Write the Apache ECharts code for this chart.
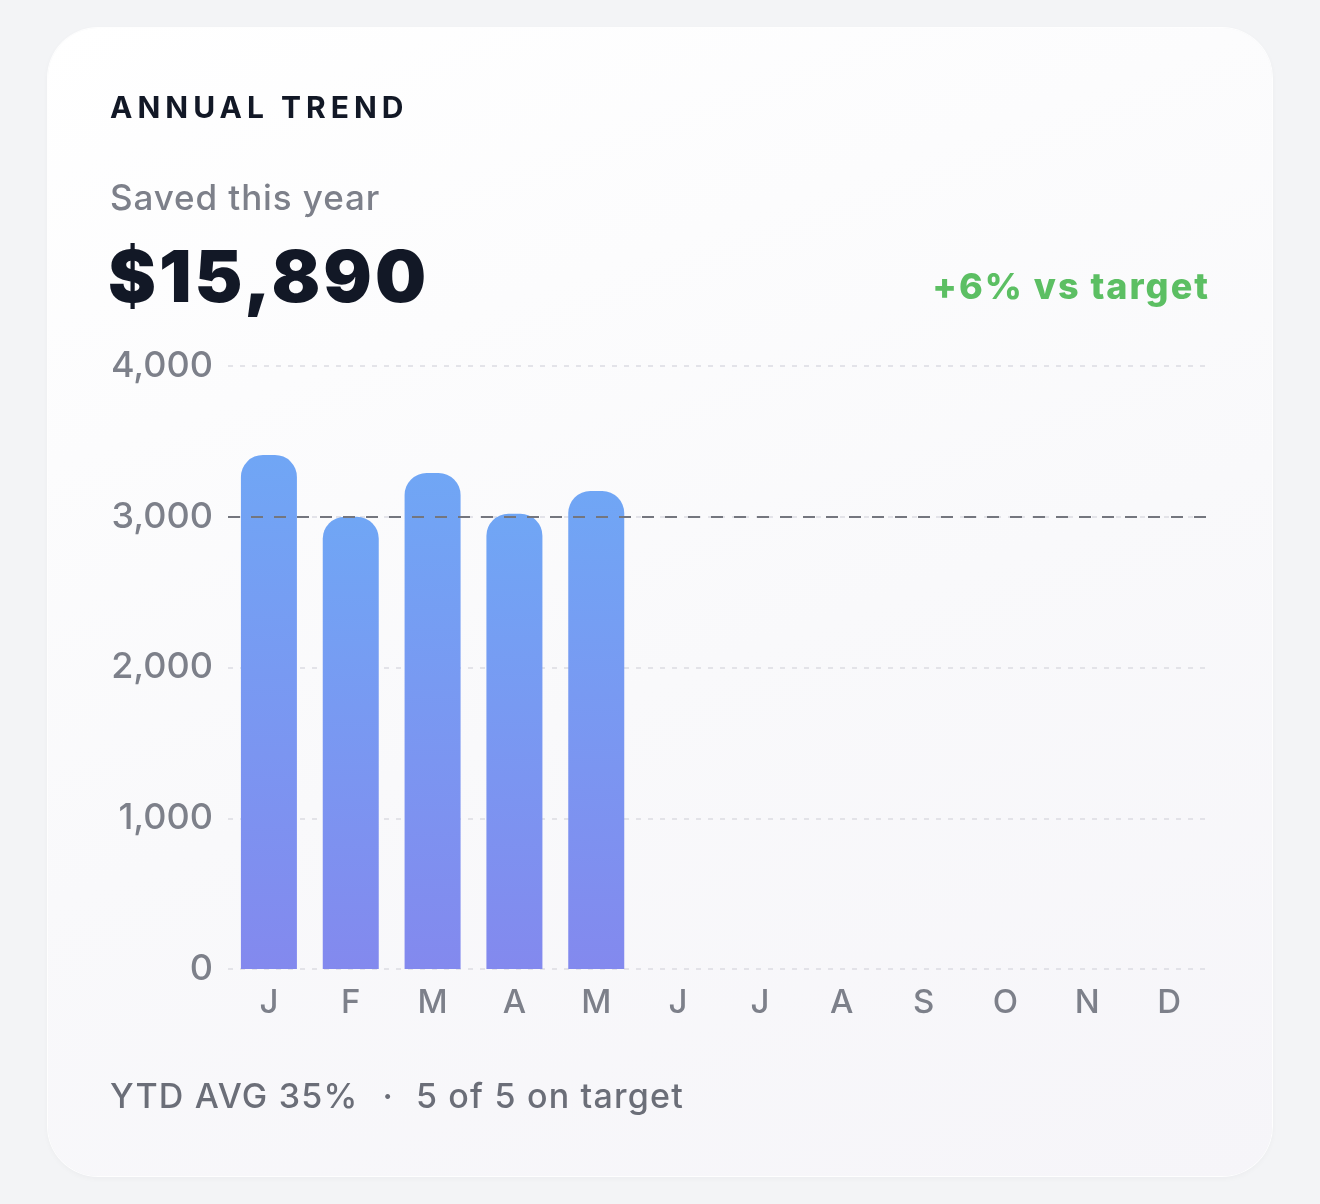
<!DOCTYPE html>
<html>
<head>
<meta charset="utf-8">
<script src="https://cdn.jsdelivr.net/npm/echarts@6/dist/echarts.min.js"></script>
<style>
  html, body { margin: 0; padding: 0; background: #f3f4f6; }
  body { width: 1320px; height: 1204px; position: relative; overflow: hidden; font-family: Inter, "Noto Sans", sans-serif; }
  .card {
    position: absolute; left: 48px; top: 28px; width: 1224px; height: 1148px;
    border-radius: 50px;
    background: linear-gradient(160deg, #ffffff 0%, #f9f9fb 55%, #f6f5f9 100%);
    box-shadow: 0 0 0 1px rgba(255,255,255,0.9), 0 2px 6px rgba(20,20,40,0.04);
  }
  #chart { position: absolute; left: 0; top: 0; width: 1320px; height: 1204px; }
  .txt { position: absolute; white-space: nowrap; }
  .head { left: 110px; top: 89px; font-size: 30px; font-weight: 700; letter-spacing: 5px; color: #121826; }
  .sub { left: 110px; top: 176px; font-size: 35px; font-weight: 500; letter-spacing: 0.9px; color: #7d808a; }
  .big { left: 108px; top: 232px; font-size: 72px; font-weight: 900; color: #121826; letter-spacing: 3px; }
  .delta { right: 110px; top: 264px; font-size: 36px; font-weight: 800; letter-spacing: 2px; color: #5cbf63; }
  .foot { left: 110px; top: 1075px; font-size: 34px; font-weight: 500; letter-spacing: 1.2px; color: #6b6e78; }
  .foot .dot { display: inline-block; margin: 0 22px 0 24px; }
</style>
</head>
<body>
<div class="card"></div>
<div id="chart"></div>
<div class="txt head">ANNUAL TREND</div>
<div class="txt sub">Saved this year</div>
<div class="txt big">$15,890</div>
<div class="txt delta">+6% vs target</div>
<div class="txt foot">YTD AVG 35%<span class="dot">·</span>5 of 5 on target</div>
<script>
// monthly savings, only Jan-May filled in so far
var months = ['J', 'F', 'M', 'A', 'M', 'J', 'J', 'A', 'S', 'O', 'N', 'D'];
var saved = [3410, 3000, 3290, 3020, 3170, null, null, null, null, null, null, null];
var target = 3000;
var yTicks = [0, 1000, 2000, 3000, 4000];

var myChart = echarts.init(document.getElementById('chart'), null, { renderer: 'canvas' });

var option = {
    backgroundColor: 'transparent',
    animation: false,
    grid: {
        left: 228,
        right: 110,
        top: 366,
        bottom: 235,
        containLabel: false
    },
    xAxis: {
        type: 'category',
        data: months,
        axisLine: { show: false },
        axisTick: { show: false },
        axisLabel: {
            color: '#7d808a',
            fontSize: 33,
            fontFamily: 'Inter',
            fontWeight: 500,
            margin: 18
        }
    },
    yAxis: {
        type: 'value',
        min: yTicks[0],
        max: yTicks[yTicks.length - 1],
        interval: 1000,
        axisLine: { show: false },
        axisTick: { show: false },
        axisLabel: {
            color: '#7d808a',
            fontSize: 36,
            fontFamily: 'Inter',
            fontWeight: 500,
            margin: 15,
            padding: [4, 0, 0, 0],
            formatter: function (v) { return v.toLocaleString('en-US'); }
        },
        splitLine: {
            lineStyle: { color: '#dcdce2', width: 1.5, type: [5, 7] }
        }
    },
    series: [{
        name: 'Saved',
        type: 'bar',
        data: saved,
        barWidth: 56,
        itemStyle: {
            borderRadius: [22, 22, 0, 0],
            color: new echarts.graphic.LinearGradient(0, 0, 0, 1, [
                { offset: 0, color: '#70a6f5' },
                { offset: 1, color: '#8389ee' }
            ])
        },
        markLine: {
            silent: true,
            symbol: 'none',
            label: { show: false },
            lineStyle: { color: '#74767e', width: 2, type: [12, 11] },
            data: [{ yAxis: target }]
        },
        z: 3
    }]
};
myChart.setOption(option);
</script>
</body>
</html>
